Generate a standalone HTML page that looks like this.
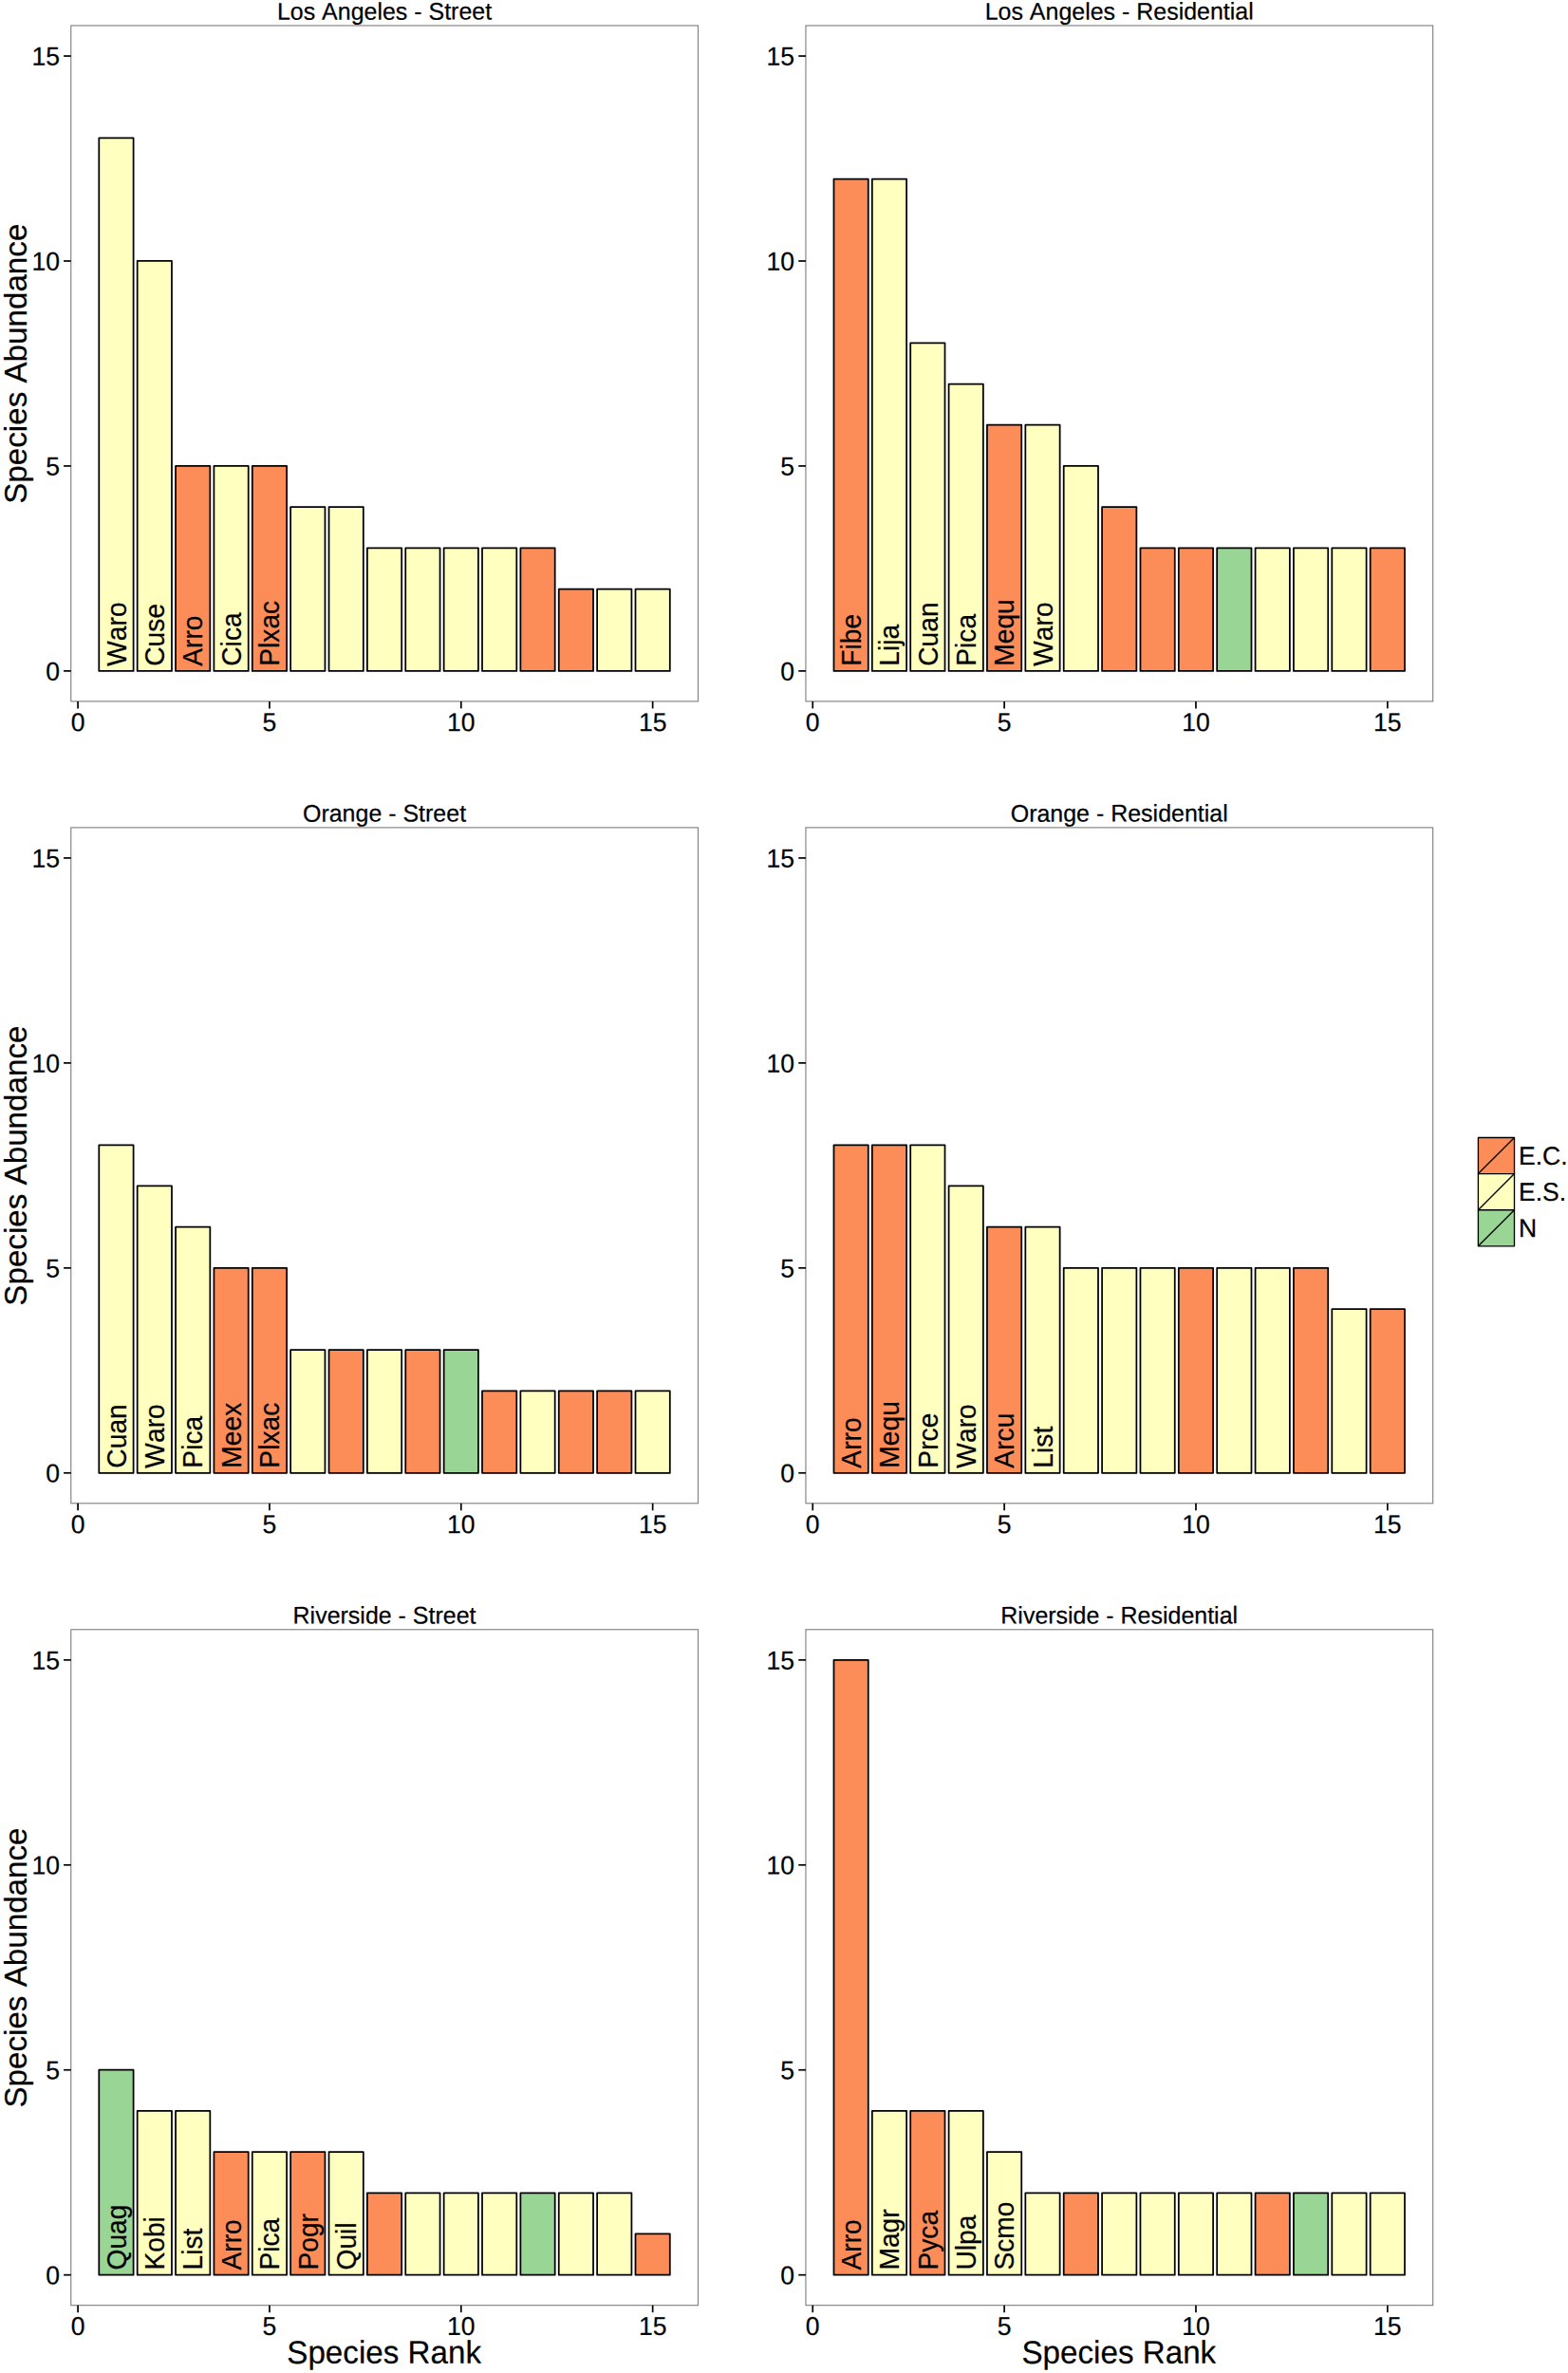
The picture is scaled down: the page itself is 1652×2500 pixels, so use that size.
<!DOCTYPE html>
<html><head><meta charset="utf-8"><title>Species rank abundance</title>
<style>
html,body{margin:0;padding:0;background:#fff}
svg{display:block}
text{font-family:"Liberation Sans",sans-serif;fill:#000;font-kerning:none;stroke:#000;stroke-width:0.2px;stroke-linejoin:round}
.tk{font-size:26.56px}
.at{font-size:33.2px}
.st{font-size:24.98px}
.bl{font-size:28.2px}
.lg{font-size:26.56px}
.bar{stroke:#000;stroke-width:1.75;stroke-linejoin:round}
.key{stroke:#000;stroke-width:1.35;stroke-linejoin:round;stroke-linecap:butt}
path.key{fill:none}
.tick{stroke:#000;stroke-width:1.7;fill:none}
.pb{fill:none;stroke:#7F7F7F;stroke-width:1.12}
</style></head><body>
<svg width="1652" height="2500" viewBox="0 0 1652 2500">
<rect width="1652" height="2500" fill="#fff"/>
<g>
<text class="st" transform="translate(405.03 20.67) rotate(-0.05) scale(1 1.02)" text-anchor="middle">Los Angeles - Street</text>
<rect class="bar" x="104.3" y="145.41" width="36.3" height="561.47" fill="#FFFFBF"/>
<rect class="bar" x="144.67" y="274.98" width="36.3" height="431.9" fill="#FFFFBF"/>
<rect class="bar" x="185.04" y="490.93" width="36.3" height="215.95" fill="#FC8D59"/>
<rect class="bar" x="225.41" y="490.93" width="36.3" height="215.95" fill="#FFFFBF"/>
<rect class="bar" x="265.79" y="490.93" width="36.3" height="215.95" fill="#FC8D59"/>
<rect class="bar" x="306.16" y="534.12" width="36.3" height="172.76" fill="#FFFFBF"/>
<rect class="bar" x="346.53" y="534.12" width="36.3" height="172.76" fill="#FFFFBF"/>
<rect class="bar" x="386.9" y="577.31" width="36.3" height="129.57" fill="#FFFFBF"/>
<rect class="bar" x="427.27" y="577.31" width="36.3" height="129.57" fill="#FFFFBF"/>
<rect class="bar" x="467.64" y="577.31" width="36.3" height="129.57" fill="#FFFFBF"/>
<rect class="bar" x="508.01" y="577.31" width="36.3" height="129.57" fill="#FFFFBF"/>
<rect class="bar" x="548.38" y="577.31" width="36.3" height="129.57" fill="#FC8D59"/>
<rect class="bar" x="588.75" y="620.5" width="36.3" height="86.38" fill="#FC8D59"/>
<rect class="bar" x="629.12" y="620.5" width="36.3" height="86.38" fill="#FFFFBF"/>
<rect class="bar" x="669.5" y="620.5" width="36.3" height="86.38" fill="#FFFFBF"/>
<text class="bl" transform="translate(132.65 701.73) rotate(-90) scale(1 1.02)">Waro</text>
<text class="bl" transform="translate(173.02 701.73) rotate(-90) scale(1 1.02)">Cuse</text>
<text class="bl" transform="translate(213.39 701.73) rotate(-90) scale(1 1.02)">Arro</text>
<text class="bl" transform="translate(253.76 701.73) rotate(-90) scale(1 1.02)">Cica</text>
<text class="bl" transform="translate(294.13 701.73) rotate(-90) scale(1 1.02)">Plxac</text>
<rect class="pb" x="74.78" y="26.97" width="660.7" height="711.93"/>
<path class="tick" d="M67.08 706.88H74.78"/>
<text class="tk" transform="translate(62.93 716.68) rotate(-0.05) scale(1 1.03)" text-anchor="end">0</text>
<path class="tick" d="M67.08 490.93H74.78"/>
<text class="tk" transform="translate(62.93 500.73) rotate(-0.05) scale(1 1.03)" text-anchor="end">5</text>
<path class="tick" d="M67.08 274.98H74.78"/>
<text class="tk" transform="translate(62.93 284.78) rotate(-0.05) scale(1 1.03)" text-anchor="end">10</text>
<path class="tick" d="M67.08 59.03H74.78"/>
<text class="tk" transform="translate(62.93 68.83) rotate(-0.05) scale(1 1.03)" text-anchor="end">15</text>
<path class="tick" d="M82.08 738.9V746.4"/>
<text class="tk" transform="translate(82.08 770.25) rotate(-0.05) scale(1 1.03)" text-anchor="middle">0</text>
<path class="tick" d="M283.94 738.9V746.4"/>
<text class="tk" transform="translate(283.94 770.25) rotate(-0.05) scale(1 1.03)" text-anchor="middle">5</text>
<path class="tick" d="M485.79 738.9V746.4"/>
<text class="tk" transform="translate(485.79 770.25) rotate(-0.05) scale(1 1.03)" text-anchor="middle">10</text>
<path class="tick" d="M687.65 738.9V746.4"/>
<text class="tk" transform="translate(687.65 770.25) rotate(-0.05) scale(1 1.03)" text-anchor="middle">15</text>
<text class="at" transform="translate(28.05 383.23) rotate(-90) scale(1 1.02)" text-anchor="middle">Species Abundance</text>
</g>
<g>
<text class="st" transform="translate(1179.21 20.67) rotate(-0.05) scale(1 1.02)" text-anchor="middle">Los Angeles - Residential</text>
<rect class="bar" x="878.48" y="188.6" width="36.3" height="518.28" fill="#FC8D59"/>
<rect class="bar" x="918.85" y="188.6" width="36.3" height="518.28" fill="#FFFFBF"/>
<rect class="bar" x="959.22" y="361.36" width="36.3" height="345.52" fill="#FFFFBF"/>
<rect class="bar" x="999.59" y="404.55" width="36.3" height="302.33" fill="#FFFFBF"/>
<rect class="bar" x="1039.96" y="447.74" width="36.3" height="259.14" fill="#FC8D59"/>
<rect class="bar" x="1080.34" y="447.74" width="36.3" height="259.14" fill="#FFFFBF"/>
<rect class="bar" x="1120.71" y="490.93" width="36.3" height="215.95" fill="#FFFFBF"/>
<rect class="bar" x="1161.08" y="534.12" width="36.3" height="172.76" fill="#FC8D59"/>
<rect class="bar" x="1201.45" y="577.31" width="36.3" height="129.57" fill="#FC8D59"/>
<rect class="bar" x="1241.82" y="577.31" width="36.3" height="129.57" fill="#FC8D59"/>
<rect class="bar" x="1282.19" y="577.31" width="36.3" height="129.57" fill="#99D594"/>
<rect class="bar" x="1322.56" y="577.31" width="36.3" height="129.57" fill="#FFFFBF"/>
<rect class="bar" x="1362.93" y="577.31" width="36.3" height="129.57" fill="#FFFFBF"/>
<rect class="bar" x="1403.3" y="577.31" width="36.3" height="129.57" fill="#FFFFBF"/>
<rect class="bar" x="1443.67" y="577.31" width="36.3" height="129.57" fill="#FC8D59"/>
<text class="bl" transform="translate(906.83 701.73) rotate(-90) scale(1 1.02)">Fibe</text>
<text class="bl" transform="translate(947.2 701.73) rotate(-90) scale(1 1.02)">Lija</text>
<text class="bl" transform="translate(987.57 701.73) rotate(-90) scale(1 1.02)">Cuan</text>
<text class="bl" transform="translate(1027.94 701.73) rotate(-90) scale(1 1.02)">Pica</text>
<text class="bl" transform="translate(1068.32 701.73) rotate(-90) scale(1 1.02)">Mequ</text>
<text class="bl" transform="translate(1108.69 701.73) rotate(-90) scale(1 1.02)">Waro</text>
<rect class="pb" x="848.96" y="26.97" width="660.7" height="711.93"/>
<path class="tick" d="M841.26 706.88H848.96"/>
<text class="tk" transform="translate(837.11 716.68) rotate(-0.05) scale(1 1.03)" text-anchor="end">0</text>
<path class="tick" d="M841.26 490.93H848.96"/>
<text class="tk" transform="translate(837.11 500.73) rotate(-0.05) scale(1 1.03)" text-anchor="end">5</text>
<path class="tick" d="M841.26 274.98H848.96"/>
<text class="tk" transform="translate(837.11 284.78) rotate(-0.05) scale(1 1.03)" text-anchor="end">10</text>
<path class="tick" d="M841.26 59.03H848.96"/>
<text class="tk" transform="translate(837.11 68.83) rotate(-0.05) scale(1 1.03)" text-anchor="end">15</text>
<path class="tick" d="M856.26 738.9V746.4"/>
<text class="tk" transform="translate(856.26 770.25) rotate(-0.05) scale(1 1.03)" text-anchor="middle">0</text>
<path class="tick" d="M1058.12 738.9V746.4"/>
<text class="tk" transform="translate(1058.12 770.25) rotate(-0.05) scale(1 1.03)" text-anchor="middle">5</text>
<path class="tick" d="M1259.97 738.9V746.4"/>
<text class="tk" transform="translate(1259.97 770.25) rotate(-0.05) scale(1 1.03)" text-anchor="middle">10</text>
<path class="tick" d="M1461.83 738.9V746.4"/>
<text class="tk" transform="translate(1461.83 770.25) rotate(-0.05) scale(1 1.03)" text-anchor="middle">15</text>
</g>
<g>
<text class="st" transform="translate(405.03 865.57) rotate(-0.05) scale(1 1.02)" text-anchor="middle">Orange - Street</text>
<rect class="bar" x="104.3" y="1206.26" width="36.3" height="345.52" fill="#FFFFBF"/>
<rect class="bar" x="144.67" y="1249.45" width="36.3" height="302.33" fill="#FFFFBF"/>
<rect class="bar" x="185.04" y="1292.64" width="36.3" height="259.14" fill="#FFFFBF"/>
<rect class="bar" x="225.41" y="1335.83" width="36.3" height="215.95" fill="#FC8D59"/>
<rect class="bar" x="265.79" y="1335.83" width="36.3" height="215.95" fill="#FC8D59"/>
<rect class="bar" x="306.16" y="1422.21" width="36.3" height="129.57" fill="#FFFFBF"/>
<rect class="bar" x="346.53" y="1422.21" width="36.3" height="129.57" fill="#FC8D59"/>
<rect class="bar" x="386.9" y="1422.21" width="36.3" height="129.57" fill="#FFFFBF"/>
<rect class="bar" x="427.27" y="1422.21" width="36.3" height="129.57" fill="#FC8D59"/>
<rect class="bar" x="467.64" y="1422.21" width="36.3" height="129.57" fill="#99D594"/>
<rect class="bar" x="508.01" y="1465.4" width="36.3" height="86.38" fill="#FC8D59"/>
<rect class="bar" x="548.38" y="1465.4" width="36.3" height="86.38" fill="#FFFFBF"/>
<rect class="bar" x="588.75" y="1465.4" width="36.3" height="86.38" fill="#FC8D59"/>
<rect class="bar" x="629.12" y="1465.4" width="36.3" height="86.38" fill="#FC8D59"/>
<rect class="bar" x="669.5" y="1465.4" width="36.3" height="86.38" fill="#FFFFBF"/>
<text class="bl" transform="translate(132.65 1546.63) rotate(-90) scale(1 1.02)">Cuan</text>
<text class="bl" transform="translate(173.02 1546.63) rotate(-90) scale(1 1.02)">Waro</text>
<text class="bl" transform="translate(213.39 1546.63) rotate(-90) scale(1 1.02)">Pica</text>
<text class="bl" transform="translate(253.76 1546.63) rotate(-90) scale(1 1.02)">Meex</text>
<text class="bl" transform="translate(294.13 1546.63) rotate(-90) scale(1 1.02)">Plxac</text>
<rect class="pb" x="74.78" y="871.87" width="660.7" height="711.93"/>
<path class="tick" d="M67.08 1551.78H74.78"/>
<text class="tk" transform="translate(62.93 1561.58) rotate(-0.05) scale(1 1.03)" text-anchor="end">0</text>
<path class="tick" d="M67.08 1335.83H74.78"/>
<text class="tk" transform="translate(62.93 1345.63) rotate(-0.05) scale(1 1.03)" text-anchor="end">5</text>
<path class="tick" d="M67.08 1119.88H74.78"/>
<text class="tk" transform="translate(62.93 1129.68) rotate(-0.05) scale(1 1.03)" text-anchor="end">10</text>
<path class="tick" d="M67.08 903.93H74.78"/>
<text class="tk" transform="translate(62.93 913.73) rotate(-0.05) scale(1 1.03)" text-anchor="end">15</text>
<path class="tick" d="M82.08 1583.8V1591.3"/>
<text class="tk" transform="translate(82.08 1615.15) rotate(-0.05) scale(1 1.03)" text-anchor="middle">0</text>
<path class="tick" d="M283.94 1583.8V1591.3"/>
<text class="tk" transform="translate(283.94 1615.15) rotate(-0.05) scale(1 1.03)" text-anchor="middle">5</text>
<path class="tick" d="M485.79 1583.8V1591.3"/>
<text class="tk" transform="translate(485.79 1615.15) rotate(-0.05) scale(1 1.03)" text-anchor="middle">10</text>
<path class="tick" d="M687.65 1583.8V1591.3"/>
<text class="tk" transform="translate(687.65 1615.15) rotate(-0.05) scale(1 1.03)" text-anchor="middle">15</text>
<text class="at" transform="translate(28.05 1228.13) rotate(-90) scale(1 1.02)" text-anchor="middle">Species Abundance</text>
</g>
<g>
<text class="st" transform="translate(1179.21 865.57) rotate(-0.05) scale(1 1.02)" text-anchor="middle">Orange - Residential</text>
<rect class="bar" x="878.48" y="1206.26" width="36.3" height="345.52" fill="#FC8D59"/>
<rect class="bar" x="918.85" y="1206.26" width="36.3" height="345.52" fill="#FC8D59"/>
<rect class="bar" x="959.22" y="1206.26" width="36.3" height="345.52" fill="#FFFFBF"/>
<rect class="bar" x="999.59" y="1249.45" width="36.3" height="302.33" fill="#FFFFBF"/>
<rect class="bar" x="1039.96" y="1292.64" width="36.3" height="259.14" fill="#FC8D59"/>
<rect class="bar" x="1080.34" y="1292.64" width="36.3" height="259.14" fill="#FFFFBF"/>
<rect class="bar" x="1120.71" y="1335.83" width="36.3" height="215.95" fill="#FFFFBF"/>
<rect class="bar" x="1161.08" y="1335.83" width="36.3" height="215.95" fill="#FFFFBF"/>
<rect class="bar" x="1201.45" y="1335.83" width="36.3" height="215.95" fill="#FFFFBF"/>
<rect class="bar" x="1241.82" y="1335.83" width="36.3" height="215.95" fill="#FC8D59"/>
<rect class="bar" x="1282.19" y="1335.83" width="36.3" height="215.95" fill="#FFFFBF"/>
<rect class="bar" x="1322.56" y="1335.83" width="36.3" height="215.95" fill="#FFFFBF"/>
<rect class="bar" x="1362.93" y="1335.83" width="36.3" height="215.95" fill="#FC8D59"/>
<rect class="bar" x="1403.3" y="1379.02" width="36.3" height="172.76" fill="#FFFFBF"/>
<rect class="bar" x="1443.67" y="1379.02" width="36.3" height="172.76" fill="#FC8D59"/>
<text class="bl" transform="translate(906.83 1546.63) rotate(-90) scale(1 1.02)">Arro</text>
<text class="bl" transform="translate(947.2 1546.63) rotate(-90) scale(1 1.02)">Mequ</text>
<text class="bl" transform="translate(987.57 1546.63) rotate(-90) scale(1 1.02)">Prce</text>
<text class="bl" transform="translate(1027.94 1546.63) rotate(-90) scale(1 1.02)">Waro</text>
<text class="bl" transform="translate(1068.32 1546.63) rotate(-90) scale(1 1.02)">Arcu</text>
<text class="bl" transform="translate(1108.69 1546.63) rotate(-90) scale(1 1.02)">List</text>
<rect class="pb" x="848.96" y="871.87" width="660.7" height="711.93"/>
<path class="tick" d="M841.26 1551.78H848.96"/>
<text class="tk" transform="translate(837.11 1561.58) rotate(-0.05) scale(1 1.03)" text-anchor="end">0</text>
<path class="tick" d="M841.26 1335.83H848.96"/>
<text class="tk" transform="translate(837.11 1345.63) rotate(-0.05) scale(1 1.03)" text-anchor="end">5</text>
<path class="tick" d="M841.26 1119.88H848.96"/>
<text class="tk" transform="translate(837.11 1129.68) rotate(-0.05) scale(1 1.03)" text-anchor="end">10</text>
<path class="tick" d="M841.26 903.93H848.96"/>
<text class="tk" transform="translate(837.11 913.73) rotate(-0.05) scale(1 1.03)" text-anchor="end">15</text>
<path class="tick" d="M856.26 1583.8V1591.3"/>
<text class="tk" transform="translate(856.26 1615.15) rotate(-0.05) scale(1 1.03)" text-anchor="middle">0</text>
<path class="tick" d="M1058.12 1583.8V1591.3"/>
<text class="tk" transform="translate(1058.12 1615.15) rotate(-0.05) scale(1 1.03)" text-anchor="middle">5</text>
<path class="tick" d="M1259.97 1583.8V1591.3"/>
<text class="tk" transform="translate(1259.97 1615.15) rotate(-0.05) scale(1 1.03)" text-anchor="middle">10</text>
<path class="tick" d="M1461.83 1583.8V1591.3"/>
<text class="tk" transform="translate(1461.83 1615.15) rotate(-0.05) scale(1 1.03)" text-anchor="middle">15</text>
</g>
<g>
<text class="st" transform="translate(405.03 1710.47) rotate(-0.05) scale(1 1.02)" text-anchor="middle">Riverside - Street</text>
<rect class="bar" x="104.3" y="2180.73" width="36.3" height="215.95" fill="#99D594"/>
<rect class="bar" x="144.67" y="2223.92" width="36.3" height="172.76" fill="#FFFFBF"/>
<rect class="bar" x="185.04" y="2223.92" width="36.3" height="172.76" fill="#FFFFBF"/>
<rect class="bar" x="225.41" y="2267.11" width="36.3" height="129.57" fill="#FC8D59"/>
<rect class="bar" x="265.79" y="2267.11" width="36.3" height="129.57" fill="#FFFFBF"/>
<rect class="bar" x="306.16" y="2267.11" width="36.3" height="129.57" fill="#FC8D59"/>
<rect class="bar" x="346.53" y="2267.11" width="36.3" height="129.57" fill="#FFFFBF"/>
<rect class="bar" x="386.9" y="2310.3" width="36.3" height="86.38" fill="#FC8D59"/>
<rect class="bar" x="427.27" y="2310.3" width="36.3" height="86.38" fill="#FFFFBF"/>
<rect class="bar" x="467.64" y="2310.3" width="36.3" height="86.38" fill="#FFFFBF"/>
<rect class="bar" x="508.01" y="2310.3" width="36.3" height="86.38" fill="#FFFFBF"/>
<rect class="bar" x="548.38" y="2310.3" width="36.3" height="86.38" fill="#99D594"/>
<rect class="bar" x="588.75" y="2310.3" width="36.3" height="86.38" fill="#FFFFBF"/>
<rect class="bar" x="629.12" y="2310.3" width="36.3" height="86.38" fill="#FFFFBF"/>
<rect class="bar" x="669.5" y="2353.49" width="36.3" height="43.19" fill="#FC8D59"/>
<text class="bl" transform="translate(132.65 2391.53) rotate(-90) scale(1 1.02)">Quag</text>
<text class="bl" transform="translate(173.02 2391.53) rotate(-90) scale(1 1.02)">Kobi</text>
<text class="bl" transform="translate(213.39 2391.53) rotate(-90) scale(1 1.02)">List</text>
<text class="bl" transform="translate(253.76 2391.53) rotate(-90) scale(1 1.02)">Arro</text>
<text class="bl" transform="translate(294.13 2391.53) rotate(-90) scale(1 1.02)">Pica</text>
<text class="bl" transform="translate(334.51 2391.53) rotate(-90) scale(1 1.02)">Pogr</text>
<text class="bl" transform="translate(374.88 2391.53) rotate(-90) scale(1 1.02)">Quil</text>
<rect class="pb" x="74.78" y="1716.77" width="660.7" height="711.93"/>
<path class="tick" d="M67.08 2396.68H74.78"/>
<text class="tk" transform="translate(62.93 2406.48) rotate(-0.05) scale(1 1.03)" text-anchor="end">0</text>
<path class="tick" d="M67.08 2180.73H74.78"/>
<text class="tk" transform="translate(62.93 2190.53) rotate(-0.05) scale(1 1.03)" text-anchor="end">5</text>
<path class="tick" d="M67.08 1964.78H74.78"/>
<text class="tk" transform="translate(62.93 1974.58) rotate(-0.05) scale(1 1.03)" text-anchor="end">10</text>
<path class="tick" d="M67.08 1748.83H74.78"/>
<text class="tk" transform="translate(62.93 1758.63) rotate(-0.05) scale(1 1.03)" text-anchor="end">15</text>
<path class="tick" d="M82.08 2428.7V2436.2"/>
<text class="tk" transform="translate(82.08 2460.05) rotate(-0.05) scale(1 1.03)" text-anchor="middle">0</text>
<path class="tick" d="M283.94 2428.7V2436.2"/>
<text class="tk" transform="translate(283.94 2460.05) rotate(-0.05) scale(1 1.03)" text-anchor="middle">5</text>
<path class="tick" d="M485.79 2428.7V2436.2"/>
<text class="tk" transform="translate(485.79 2460.05) rotate(-0.05) scale(1 1.03)" text-anchor="middle">10</text>
<path class="tick" d="M687.65 2428.7V2436.2"/>
<text class="tk" transform="translate(687.65 2460.05) rotate(-0.05) scale(1 1.03)" text-anchor="middle">15</text>
<text class="at" transform="translate(28.05 2073.04) rotate(-90) scale(1 1.02)" text-anchor="middle">Species Abundance</text>
<text class="at" transform="translate(404.63 2489.8) rotate(-0.05) scale(1 1.02)" text-anchor="middle">Species Rank</text>
</g>
<g>
<text class="st" transform="translate(1179.21 1710.47) rotate(-0.05) scale(1 1.02)" text-anchor="middle">Riverside - Residential</text>
<rect class="bar" x="878.48" y="1748.83" width="36.3" height="647.85" fill="#FC8D59"/>
<rect class="bar" x="918.85" y="2223.92" width="36.3" height="172.76" fill="#FFFFBF"/>
<rect class="bar" x="959.22" y="2223.92" width="36.3" height="172.76" fill="#FC8D59"/>
<rect class="bar" x="999.59" y="2223.92" width="36.3" height="172.76" fill="#FFFFBF"/>
<rect class="bar" x="1039.96" y="2267.11" width="36.3" height="129.57" fill="#FFFFBF"/>
<rect class="bar" x="1080.34" y="2310.3" width="36.3" height="86.38" fill="#FFFFBF"/>
<rect class="bar" x="1120.71" y="2310.3" width="36.3" height="86.38" fill="#FC8D59"/>
<rect class="bar" x="1161.08" y="2310.3" width="36.3" height="86.38" fill="#FFFFBF"/>
<rect class="bar" x="1201.45" y="2310.3" width="36.3" height="86.38" fill="#FFFFBF"/>
<rect class="bar" x="1241.82" y="2310.3" width="36.3" height="86.38" fill="#FFFFBF"/>
<rect class="bar" x="1282.19" y="2310.3" width="36.3" height="86.38" fill="#FFFFBF"/>
<rect class="bar" x="1322.56" y="2310.3" width="36.3" height="86.38" fill="#FC8D59"/>
<rect class="bar" x="1362.93" y="2310.3" width="36.3" height="86.38" fill="#99D594"/>
<rect class="bar" x="1403.3" y="2310.3" width="36.3" height="86.38" fill="#FFFFBF"/>
<rect class="bar" x="1443.67" y="2310.3" width="36.3" height="86.38" fill="#FFFFBF"/>
<text class="bl" transform="translate(906.83 2391.53) rotate(-90) scale(1 1.02)">Arro</text>
<text class="bl" transform="translate(947.2 2391.53) rotate(-90) scale(1 1.02)">Magr</text>
<text class="bl" transform="translate(987.57 2391.53) rotate(-90) scale(1 1.02)">Pyca</text>
<text class="bl" transform="translate(1027.94 2391.53) rotate(-90) scale(1 1.02)">Ulpa</text>
<text class="bl" transform="translate(1068.32 2391.53) rotate(-90) scale(1 1.02)">Scmo</text>
<rect class="pb" x="848.96" y="1716.77" width="660.7" height="711.93"/>
<path class="tick" d="M841.26 2396.68H848.96"/>
<text class="tk" transform="translate(837.11 2406.48) rotate(-0.05) scale(1 1.03)" text-anchor="end">0</text>
<path class="tick" d="M841.26 2180.73H848.96"/>
<text class="tk" transform="translate(837.11 2190.53) rotate(-0.05) scale(1 1.03)" text-anchor="end">5</text>
<path class="tick" d="M841.26 1964.78H848.96"/>
<text class="tk" transform="translate(837.11 1974.58) rotate(-0.05) scale(1 1.03)" text-anchor="end">10</text>
<path class="tick" d="M841.26 1748.83H848.96"/>
<text class="tk" transform="translate(837.11 1758.63) rotate(-0.05) scale(1 1.03)" text-anchor="end">15</text>
<path class="tick" d="M856.26 2428.7V2436.2"/>
<text class="tk" transform="translate(856.26 2460.05) rotate(-0.05) scale(1 1.03)" text-anchor="middle">0</text>
<path class="tick" d="M1058.12 2428.7V2436.2"/>
<text class="tk" transform="translate(1058.12 2460.05) rotate(-0.05) scale(1 1.03)" text-anchor="middle">5</text>
<path class="tick" d="M1259.97 2428.7V2436.2"/>
<text class="tk" transform="translate(1259.97 2460.05) rotate(-0.05) scale(1 1.03)" text-anchor="middle">10</text>
<path class="tick" d="M1461.83 2428.7V2436.2"/>
<text class="tk" transform="translate(1461.83 2460.05) rotate(-0.05) scale(1 1.03)" text-anchor="middle">15</text>
<text class="at" transform="translate(1178.81 2489.8) rotate(-0.05) scale(1 1.02)" text-anchor="middle">Species Rank</text>
</g>
<g>
<rect class="key" x="1557.4" y="1198.46" width="38.1" height="38.12" fill="#FC8D59"/>
<path class="key" d="M1557.4 1236.58L1595.5 1198.46"/>
<text class="lg" transform="translate(1600 1226.96) rotate(-0.05) scale(1 1.02)">E.C.</text>
<rect class="key" x="1557.4" y="1236.58" width="38.1" height="38.12" fill="#FFFFBF"/>
<path class="key" d="M1557.4 1274.7L1595.5 1236.58"/>
<text class="lg" transform="translate(1600 1265.08) rotate(-0.05) scale(1 1.02)">E.S.</text>
<rect class="key" x="1557.4" y="1274.7" width="38.1" height="38.12" fill="#99D594"/>
<path class="key" d="M1557.4 1312.82L1595.5 1274.7"/>
<text class="lg" transform="translate(1600 1303.2) rotate(-0.05) scale(1 1.02)">N</text>
</g>
</svg>
</body></html>
